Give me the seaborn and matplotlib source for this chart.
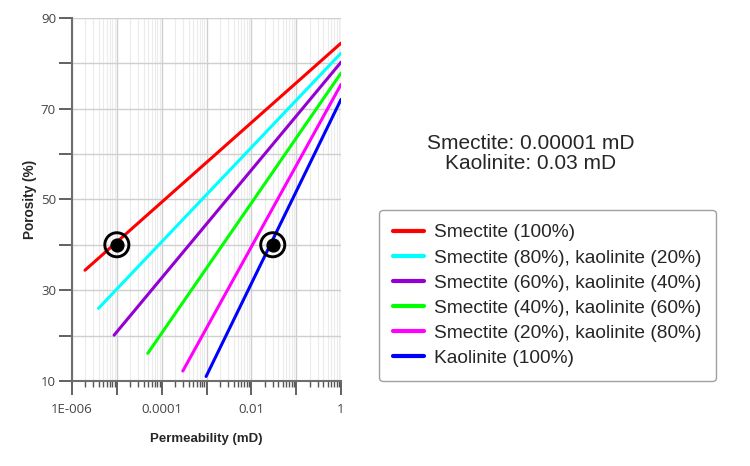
import numpy as np
import pandas as pd
import seaborn as sns
import matplotlib.pyplot as plt
from matplotlib.ticker import LogLocator, FixedLocator, NullFormatter

labels = [
    "Smectite (100%)",
    "Smectite (80%), kaolinite (20%)",
    "Smectite (60%), kaolinite (40%)",
    "Smectite (40%), kaolinite (60%)",
    "Smectite (20%), kaolinite (80%)",
    "Kaolinite (100%)",
]
colors = ["#ff0000", "#00ffff", "#9400d3", "#00ff00", "#ff00ff", "#0000ff"]
perm_start = [1.95e-6, 3.9e-6, 8.7e-6, 4.9e-5, 2.96e-4, 9.8e-4]
poro_start = [34.4, 26.0, 20.1, 16.1, 12.2, 11.0]
perm_end = [1.0, 1.0, 1.0, 1.0, 1.0, 1.0]
poro_end = [84.4, 82.2, 80.2, 77.8, 75.3, 72.0]

point_perm = [1e-5, 0.03]
point_poro = [40, 40]

rows = []
for lab, p0, y0, p1, y1 in zip(labels, perm_start, poro_start, perm_end, poro_end):
    rows.append({"mix": lab, "perm": p0, "poro": y0})
    rows.append({"mix": lab, "perm": p1, "poro": y1})
df = pd.DataFrame(rows)

sns.set_style("white")
plt.rcParams['font.family'] = ['Liberation Sans', 'DejaVu Sans']

fig = plt.figure(figsize=(7.5, 4.66), dpi=100)
ax = fig.add_axes([0.096, 0.1824, 0.3587, 0.7796])

ax.set_xscale("log")
ax.set_xlim(1e-6, 1)
ax.set_ylim(10, 90)

ax.xaxis.set_minor_locator(LogLocator(base=10, subs=np.arange(2, 10), numticks=20))
ax.xaxis.set_minor_formatter(NullFormatter())
ax.set_xticks([1e-6, 1e-5, 1e-4, 1e-3, 1e-2, 1e-1, 1])
ax.set_xticklabels(["1E-006", "", "0.0001", "", "0.01", "", "1"])
ax.yaxis.set_major_locator(FixedLocator(np.arange(10, 91, 10)))
ax.set_yticklabels(["10", "", "30", "", "50", "", "70", "", "90"])

ax.grid(which="major", color="#cfcfcf", linewidth=1.0)
ax.grid(which="minor", axis="x", color="#ececec", linewidth=0.8)
ax.set_axisbelow(True)

sns.lineplot(data=df, x="perm", y="poro", hue="mix", palette=colors,
             hue_order=labels, linewidth=2.2, ax=ax, legend=True, sort=False)

ax.scatter(point_perm, point_poro, s=85, color="black", zorder=5)
ax.scatter(point_perm, point_poro, s=300, facecolors="none", edgecolors="black",
           linewidths=2.1, zorder=5)

for side in ["top", "right"]:
    ax.spines[side].set_visible(False)
for side in ["left", "bottom"]:
    ax.spines[side].set_color("#6e6e6e")
    ax.spines[side].set_linewidth(1.5)

ax.tick_params(axis="x", which="both", bottom=True)
ax.tick_params(axis="y", which="both", left=True)
ax.tick_params(axis="x", which="major", direction="out", length=10, width=1.3,
               color="#555555", labelcolor="#444444", labelsize=9.5, pad=6)
ax.tick_params(axis="x", which="minor", direction="out", length=4, width=1.0,
               color="#555555")
ax.tick_params(axis="y", which="major", direction="out", length=9.5, width=1.3,
               color="#555555", labelcolor="#444444", labelsize=9.5, pad=2)
for t in ax.get_xticklabels() + ax.get_yticklabels():
    t.set_family(["Open Sans", "DejaVu Sans"])

ax.set_xlabel("Permeability (mD)", fontsize=9.5, fontweight="bold", labelpad=12)
ax.set_ylabel("Porosity (%)", fontsize=9.8, fontweight="bold", labelpad=3)

handles, labs = ax.get_legend_handles_labels()
leg = ax.legend(handles, labs, loc="upper left", bbox_to_anchor=(0.505, 0.55),
                bbox_transform=fig.transFigure, fontsize=13.8, frameon=True,
                fancybox=True, edgecolor="#888888", handlelength=1.6,
                handletextpad=0.55, labelspacing=0.4, borderpad=0.75,
                borderaxespad=0)
for line in leg.get_lines():
    line.set_linewidth(3)

fig.text(0.708, 0.691, "Smectite: 0.00001 mD", ha="center", va="center", fontsize=15)
fig.text(0.708, 0.650, "Kaolinite: 0.03 mD", ha="center", va="center", fontsize=15)

fig.savefig("out.png", dpi=100)
